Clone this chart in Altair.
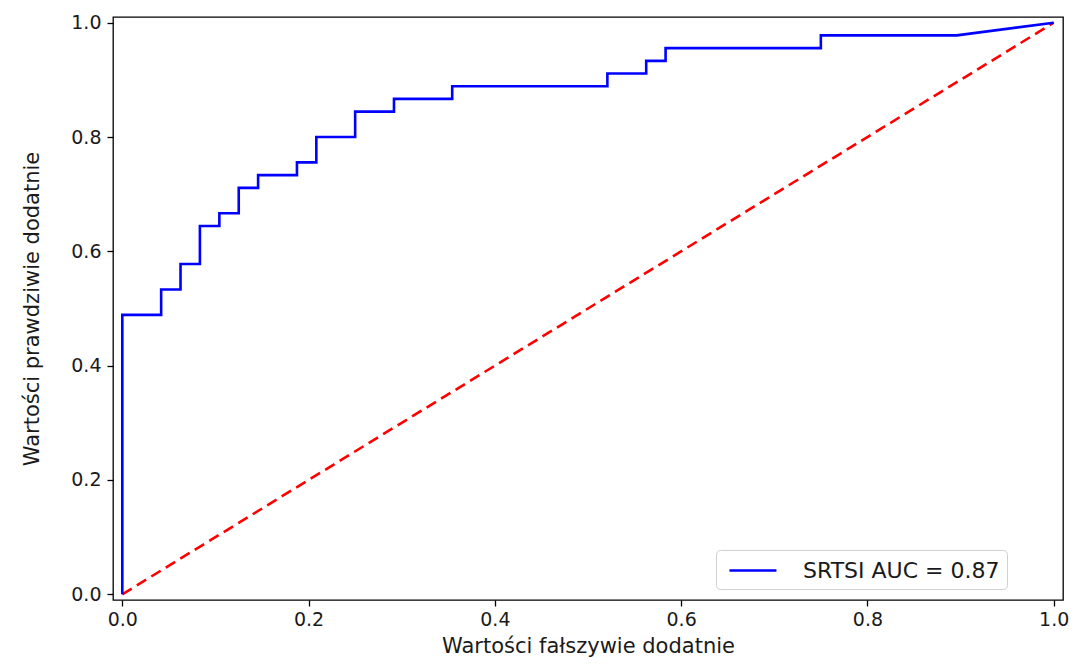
import altair as alt
import pandas as pd

fpr = [0.0, 0.0, 0.0417, 0.0417, 0.0625, 0.0625, 0.0833, 0.0833, 0.1042, 0.1042,
       0.125, 0.125, 0.1458, 0.1458, 0.1875, 0.1875, 0.2083, 0.2083, 0.25, 0.25,
       0.2917, 0.2917, 0.3542, 0.3542, 0.5208, 0.5208, 0.5625, 0.5625, 0.5833, 0.5833,
       0.75, 0.75, 0.8958, 1.0]
tpr = [0.0, 0.4889, 0.4889, 0.5333, 0.5333, 0.5778, 0.5778, 0.6444, 0.6444, 0.6667,
       0.6667, 0.7111, 0.7111, 0.7333, 0.7333, 0.7556, 0.7556, 0.8, 0.8, 0.8444,
       0.8444, 0.8667, 0.8667, 0.8889, 0.8889, 0.9111, 0.9111, 0.9333, 0.9333, 0.9556,
       0.9556, 0.9778, 0.9778, 1.0]
series_label = "SRTSI AUC = 0.87"
diag_x = [0.0, 1.0]
diag_y = [0.0, 1.0]
x_ticks = [0.0, 0.2, 0.4, 0.6, 0.8, 1.0]
y_ticks = [0.0, 0.2, 0.4, 0.6, 0.8, 1.0]

roc = pd.DataFrame({"fpr": fpr, "tpr": tpr, "order": list(range(len(fpr))),
                    "series": [series_label] * len(fpr)})
diag = pd.DataFrame({"fpr": diag_x, "tpr": diag_y})

FONT = "DejaVu Sans"
TXT = "#1a1a1a"

xscale = alt.Scale(domain=[-0.01, 1.01], nice=False, zero=False)
yscale = alt.Scale(domain=[-0.01, 1.01], nice=False, zero=False)

xaxis = alt.Axis(title="Wartości fałszywie dodatnie", values=x_ticks, format=".1f",
                 grid=False, tickColor="black", domain=False, tickSize=6, tickWidth=1.3,
                 labelFont=FONT, labelFontSize=19, labelColor=TXT, labelPadding=4,
                 titleFont=FONT, titleFontSize=21, titleFontWeight="normal",
                 titleColor=TXT, titlePadding=6)
yaxis = alt.Axis(title="Wartości prawdziwie dodatnie", values=y_ticks, format=".1f",
                 grid=False, tickColor="black", domain=False, tickSize=6, tickWidth=1.3,
                 labelFont=FONT, labelFontSize=19, labelColor=TXT, labelPadding=6,
                 titleFont=FONT, titleFontSize=21, titleFontWeight="normal",
                 titleColor=TXT, titlePadding=28)

line = alt.Chart(roc).mark_line(strokeWidth=2.6).encode(
    x=alt.X("fpr:Q", scale=xscale, axis=xaxis),
    y=alt.Y("tpr:Q", scale=yscale, axis=yaxis),
    order="order:Q",
    color=alt.Color("series:N",
                    scale=alt.Scale(domain=[series_label], range=["#0000ff"]),
                    legend=alt.Legend(title=None, orient="none", legendX=603, legendY=533,
                                      symbolType="M-0.6,0H3.4", symbolSize=552,
                                      symbolStrokeWidth=2.6, labelFont=FONT,
                                      labelFontSize=22, labelColor=TXT, labelLimit=0,
                                      labelOffset=53, padding=7,
                                      strokeColor="#d0d0d0", cornerRadius=4,
                                      fillColor="white")),
)

dline = alt.Chart(diag).mark_line(strokeWidth=2.6, color="#ff0000",
                                  strokeDash=[11, 6]).encode(
    x=alt.X("fpr:Q", scale=xscale),
    y=alt.Y("tpr:Q", scale=yscale),
)

chart = (dline + line).properties(
    width=950, height=583,
    background="white",
    autosize=alt.AutoSizeParams(type="none"),
    padding={"left": 105, "top": 9, "right": 7, "bottom": 59},
).configure_view(stroke="black", strokeWidth=1.3)

chart.save("out.html", embed_options={"renderer": "svg", "actions": False})
